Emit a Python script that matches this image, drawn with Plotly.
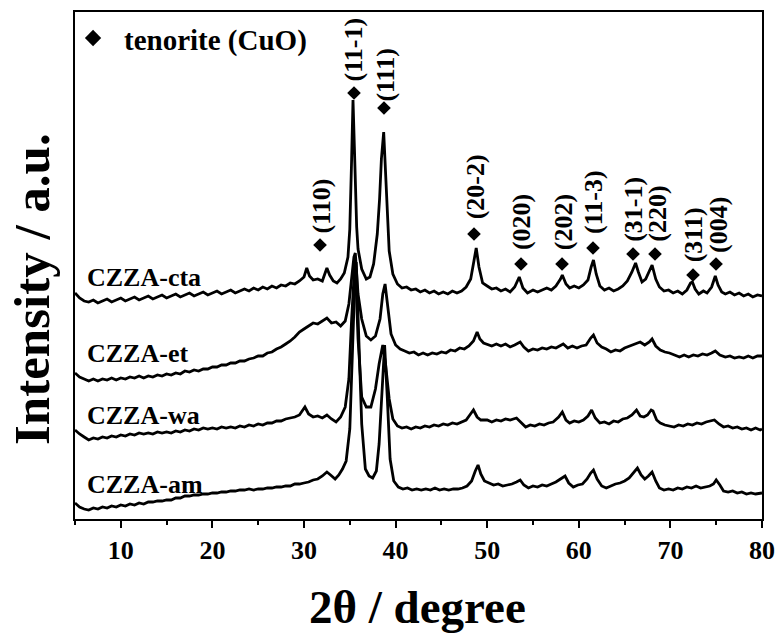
import plotly.graph_objects as go

# ---- data (2theta in degree, intensity in a.u.) ----
cta = [
(5.0,226),(5.5,221),(6.0,218),(6.5,217),(7.0,219),(7.5,216),(8.0,218),(8.5,220),(9.0,217),(9.5,219),
(10.0,221),(10.5,218),(11.0,220),(11.5,222),(12.0,219),(12.5,221),(13.0,223),(13.5,220),(14.0,222),(14.5,224),
(15.0,221),(15.5,223),(16.0,225),(16.5,222),(17.0,224),(17.5,226),(18.0,223),(18.5,225),(19.0,227),(19.5,224),
(20.0,226),(20.5,228),(21.0,225),(21.5,227),(22.0,229),(22.5,226),(23.0,228),(23.5,230),(24.0,228),(24.5,231),
(25.0,229),(25.5,232),(26.0,230),(26.5,233),(27.0,231),(27.5,234),(28.0,233),(28.5,236),(29.0,235),(29.5,238),
(30.0,242),(30.3,251),(30.6,243),(31.0,239),(31.5,240),(32.0,238),(32.5,251),(32.8,244),(33.2,238),(33.6,236),
(34.0,240),(34.4,246),(34.8,262),(35.0,290),(35.2,360),(35.35,419),(35.5,372),(35.6,330),(35.75,292),(35.9,270),
(36.3,250),(36.8,240),(37.2,242),(37.6,255),(38.0,285),(38.25,320),(38.45,360),(38.7,387),(38.9,345),(39.1,300),(39.3,268),
(39.7,245),(40.2,235),(40.7,231),(41.2,232),(41.7,229),(42.2,230),(42.7,227),(43.2,229),(43.7,226),(44.2,228),
(44.7,225),(45.2,227),(45.7,225),(46.2,228),(46.7,226),(47.2,228),(47.7,232),(48.2,240),(48.55,258),(48.8,271),
(49.1,252),(49.5,236),(50.0,233),(50.5,230),(51.0,231),(51.5,228),(52.0,230),(52.5,227),(53.0,232),(53.5,242),
(53.9,231),(54.4,226),(55.0,229),(55.5,227),(56.0,229),(56.5,231),(57.0,229),(57.5,233),(58.0,240),(58.2,244),
(58.6,235),(59.0,231),(59.5,233),(60.0,231),(60.5,234),(61.0,239),(61.35,252),(61.6,259),(61.9,245),(62.3,233),
(62.8,229),(63.3,231),(63.8,228),(64.3,230),(64.8,233),(65.3,238),(65.8,247),(66.2,256),(66.5,247),(66.9,237),
(67.3,240),(67.7,248),(68.0,254),(68.4,240),(68.8,232),(69.3,228),(69.8,229),(70.3,226),(70.8,228),(71.3,225),
(71.8,229),(72.2,236),(72.4,237),(72.7,230),(73.1,225),(73.6,228),(74.0,226),(74.5,232),(74.9,243),(75.2,234),
(75.6,227),(76.0,225),(76.5,227),(77.0,224),(77.5,226),(78.0,223),(78.5,225),(79.0,222),(79.5,224),(80.0,223)]

et = [
(5.0,146),(5.5,142),(6.0,140),(6.5,138),(7.0,140),(7.5,138),(8.0,140),(8.5,139),(9.0,141),(9.5,139),
(10.0,141),(10.5,140),(11.0,142),(11.5,141),(12.0,143),(12.5,141),(13.0,143),(13.5,142),(14.0,144),(14.5,143),
(15.0,145),(15.5,144),(16.0,146),(16.5,145),(17.0,148),(17.5,147),(18.0,149),(18.5,148),(19.0,150),(19.5,150),
(20.0,152),(20.5,152),(21.0,154),(21.5,154),(22.0,156),(22.5,156),(23.0,158),(23.5,158),(24.0,160),(24.5,161),
(25.0,163),(25.5,163),(26.0,166),(26.5,167),(27.0,170),(27.5,172),(28.0,175),(28.5,178),(29.0,182),(29.5,187),
(30.0,190),(30.5,193),(31.0,196),(31.5,195),(32.0,198),(32.5,201),(33.0,196),(33.5,197),(34.0,193),(34.5,198),
(34.9,215),(35.2,240),(35.45,262),(35.6,266),(35.75,245),(35.9,225),(36.3,200),(36.8,183),(37.3,179),(37.8,183),
(38.3,200),(38.6,225),(38.85,235),(39.1,215),(39.5,185),(40.0,174),(40.5,170),(41.0,168),(41.5,166),(42.0,167),
(42.5,164),(43.0,166),(43.5,164),(44.0,166),(44.5,165),(45.0,167),(45.5,166),(46.0,169),(46.5,168),(47.0,171),
(47.5,170),(48.0,173),(48.5,178),(48.9,187),(49.2,180),(49.6,176),(50.0,175),(50.5,173),(51.0,175),(51.5,173),
(52.0,175),(52.5,172),(53.0,174),(53.6,177),(54.0,172),(54.5,168),(55.0,170),(55.5,169),(56.0,171),(56.5,170),
(57.0,172),(57.5,171),(58.3,175),(58.8,171),(59.3,173),(59.8,171),(60.3,173),(60.8,174),(61.3,181),(61.6,184),
(62.0,176),(62.5,172),(63.0,170),(63.5,167),(64.0,169),(64.5,168),(65.0,171),(65.5,173),(66.0,175),(66.7,177),
(67.2,174),(67.7,177),(68.0,180),(68.4,173),(68.9,169),(69.4,167),(69.9,166),(70.5,164),(71.0,162),(71.5,164),
(72.0,162),(72.5,164),(73.0,163),(73.5,165),(74.0,164),(74.5,166),(74.9,168),(75.4,164),(76.0,162),(76.5,163),
(77.0,161),(77.5,162),(78.0,161),(78.5,163),(79.0,161),(79.5,163),(80.0,163)]

wa = [
(5.0,89),(5.5,85),(6.0,82),(6.5,79),(7.0,81),(7.5,80),(8.0,82),(8.5,81),(9.0,83),(9.5,82),
(10.0,84),(10.5,83),(11.0,85),(11.5,84),(12.0,86),(12.5,85),(13.0,86),(13.5,85),(14.0,87),(14.5,86),
(15.0,87),(15.5,86),(16.0,88),(16.5,87),(17.0,89),(17.5,88),(18.0,90),(18.5,89),(19.0,91),(19.5,90),
(20.0,91),(20.5,90),(21.0,92),(21.5,91),(22.0,92),(22.5,91),(23.0,93),(23.5,92),(24.0,94),(24.5,93),
(25.0,95),(25.5,94),(26.0,96),(26.5,96),(27.0,98),(27.5,98),(28.0,100),(28.5,101),(29.0,102),(29.5,104),
(29.8,108),(30.1,112),(30.5,105),(31.0,102),(31.5,103),(32.0,101),(32.5,104),(33.0,100),(33.5,97),(34.0,102),
(34.5,112),(34.9,140),(35.2,200),(35.4,240),(35.55,257),(35.7,230),(35.9,180),(36.3,122),(36.8,112),(37.3,112),
(37.8,130),(38.2,155),(38.6,174),(38.9,155),(39.3,120),(39.7,100),(40.2,93),(40.7,91),(41.2,92),(41.7,90),
(42.2,92),(42.7,91),(43.2,93),(43.7,92),(44.2,94),(44.7,93),(45.2,95),(45.7,94),(46.2,96),(46.7,95),
(47.2,97),(47.7,99),(48.1,104),(48.5,109),(48.9,102),(49.3,99),(50.0,99),(50.5,97),(51.0,99),(51.5,98),
(52.0,100),(52.5,99),(53.2,101),(53.7,96),(54.2,92),(54.7,94),(55.2,93),(55.7,95),(56.2,94),(56.7,96),
(57.2,97),(57.8,102),(58.2,107),(58.6,99),(59.0,96),(59.5,98),(60.0,97),(60.5,99),(61.0,103),(61.4,109),
(61.8,101),(62.3,96),(62.8,97),(63.3,95),(63.8,98),(64.3,97),(64.8,100),(65.3,101),(65.8,104),(66.3,109),
(66.7,103),(67.1,102),(67.5,104),(67.9,109),(68.1,108),(68.5,99),(68.9,96),(69.4,94),(69.9,93),(70.4,92),
(70.9,94),(71.4,93),(71.9,95),(72.4,94),(72.9,96),(73.4,95),(73.9,97),(74.4,98),(74.8,99),(75.3,95),
(75.8,92),(76.3,93),(76.8,91),(77.3,92),(77.8,90),(78.3,91),(78.8,89),(79.3,91),(79.8,89),(80.0,90)]

am = [
(5.0,16),(5.5,12),(6.0,10),(6.5,9),(7.0,11),(7.5,10),(8.0,12),(8.5,11),(9.0,13),(9.5,12),
(10.0,14),(10.5,13),(11.0,15),(11.5,14),(12.0,16),(12.5,15),(13.0,17),(13.5,17),(14.0,18),(14.5,18),
(15.0,19),(15.5,19),(16.0,21),(16.5,21),(17.0,23),(17.5,23),(18.0,24),(18.5,24),(19.0,25),(19.5,25),
(20.0,26),(20.5,26),(21.0,27),(21.5,27),(22.0,28),(22.5,28),(23.0,29),(23.5,29),(24.0,30),(24.5,29),
(25.0,30),(25.5,30),(26.0,31),(26.5,31),(27.0,32),(27.5,32),(28.0,33),(28.5,33),(29.0,35),(29.5,35),
(30.0,36),(30.5,37),(31.0,39),(31.5,40),(32.0,43),(32.5,47),(32.9,44),(33.4,40),(33.8,44),(34.2,50),
(34.6,58),(35.0,90),(35.3,170),(35.5,225),(35.7,257),(35.85,220),(36.0,180),(36.3,95),(36.7,50),(37.1,43),
(37.5,41),(37.9,48),(38.2,75),(38.5,130),(38.8,174),(39.1,120),(39.4,60),(39.8,38),(40.3,32),(40.8,30),
(41.3,31),(41.8,29),(42.3,30),(42.8,29),(43.3,30),(43.8,29),(44.3,31),(44.8,29),(45.3,30),(45.8,29),
(46.3,30),(46.8,30),(47.3,31),(47.8,33),(48.3,38),(48.7,48),(49.0,54),(49.3,45),(49.7,38),(50.2,36),
(50.7,34),(51.2,35),(51.7,33),(52.2,34),(52.7,35),(53.2,37),(53.6,39),(54.0,34),(54.5,31),(55.0,33),
(55.5,32),(56.0,34),(56.5,33),(57.0,35),(57.5,37),(58.0,40),(58.5,43),(58.9,36),(59.4,32),(59.9,34),
(60.4,35),(60.9,40),(61.3,46),(61.6,49),(62.0,40),(62.5,33),(63.0,31),(63.5,33),(64.0,35),(64.5,36),
(65.0,38),(65.5,41),(66.0,47),(66.4,51),(66.8,44),(67.2,40),(67.6,43),(68.0,47),(68.4,38),(68.8,31),
(69.3,29),(69.8,30),(70.3,29),(70.8,31),(71.3,30),(71.8,32),(72.3,31),(72.8,33),(73.3,31),(73.8,32),
(74.3,33),(74.7,35),(75.0,39),(75.4,34),(75.8,28),(76.3,27),(76.8,28),(77.3,26),(77.8,27),(78.3,25),
(78.8,26),(79.3,25),(79.8,26),(80.0,26)]

sample_names = ["CZZA-cta", "CZZA-et", "CZZA-wa", "CZZA-am"]
sample_label_y = [242, 166, 104, 35]
sample_label_x = 6.1

peak_hkl = ["(110)", "(11-1)", "(111)", "(20-2)", "(020)", "(202)", "(11-3)", "(31-1)", "(220)", "(311)", "(004)"]
peak_marker_x = [31.75, 35.46, 38.73, 48.56, 53.69, 58.17, 61.55, 65.92, 68.32, 72.47, 74.98]
peak_marker_y = [274, 426, 411, 285, 255, 255, 271, 265, 265, 244, 255]
peak_label_x = [31.9, 35.4, 38.8, 48.7, 53.7, 58.3, 61.55, 65.9, 68.5, 72.5, 75.2]
peak_label_y = [313, 470, 444, 332, 297, 297, 317, 310, 305, 284, 294]

x_ticks = [10, 20, 30, 40, 50, 60, 70, 80]

FONT = "Liberation Serif, Times New Roman, serif"

fig = go.Figure()
for series in (cta, et, wa, am):
    fig.add_trace(go.Scatter(
        x=[p[0] for p in series], y=[p[1] for p in series],
        mode="lines", line=dict(color="black", width=2.8), showlegend=False,
        hoverinfo="skip"))

fig.add_trace(go.Scatter(
    x=peak_marker_x, y=peak_marker_y, mode="markers",
    marker=dict(symbol="diamond", size=10.5, color="black"),
    showlegend=False, hoverinfo="skip"))

# legend marker
fig.add_trace(go.Scatter(
    x=[6.97], y=[481], mode="markers",
    marker=dict(symbol="diamond", size=12.5, color="black"),
    showlegend=False, hoverinfo="skip"))

annotations = []
annotations.append(dict(x=10.1, y=479, xref="x", yref="y", text="tenorite (CuO)",
                        showarrow=False, xanchor="left", yanchor="middle",
                        font=dict(family=FONT, size=29, color="black", weight="bold")))
for name, yy in zip(sample_names, sample_label_y):
    annotations.append(dict(x=sample_label_x, y=yy, xref="x", yref="y", text=name,
                            showarrow=False, xanchor="left", yanchor="middle",
                            font=dict(family=FONT, size=26, color="black", weight="bold")))
for lab, lx, ly in zip(peak_hkl, peak_label_x, peak_label_y):
    annotations.append(dict(x=lx, y=ly, xref="x", yref="y", text=lab, textangle=-90,
                            showarrow=False, xanchor="center", yanchor="middle",
                            font=dict(family=FONT, size=26, color="black", weight="bold")))
# axis titles
annotations.append(dict(x=(32 - 75) / 687, y=(519 - 289) / 507, xref="paper", yref="paper",
                        text="Intensity / a.u.", textangle=-90, showarrow=False,
                        xanchor="center", yanchor="middle",
                        font=dict(family=FONT, size=51, color="black", weight="bold")))
annotations.append(dict(x=(417 - 75) / 687, y=(519 - 607) / 507, xref="paper", yref="paper",
                        text="2θ / degree", showarrow=False,
                        xanchor="center", yanchor="middle",
                        font=dict(family=FONT, size=47, color="black", weight="bold")))

fig.update_layout(
    width=777, height=633,
    margin=dict(l=75, r=15, t=12, b=114, autoexpand=False),
    paper_bgcolor="white", plot_bgcolor="white",
    annotations=annotations,
    xaxis=dict(range=[5, 80], tickvals=x_ticks, ticktext=[str(t) for t in x_ticks],
               automargin=False,
               ticks="outside", ticklen=7, tickwidth=1.5, tickcolor="black",
               minor=dict(dtick=5, tick0=5, ticks="outside", ticklen=4, tickwidth=1.5, tickcolor="black"),
               showline=True, linecolor="black", linewidth=2, mirror=True,
               showgrid=False, zeroline=False,
               tickfont=dict(family=FONT, size=26, color="black", weight="bold")),
    yaxis=dict(range=[0, 507], showticklabels=False, ticks="", automargin=False,
               showline=True, linecolor="black", linewidth=2, mirror=True,
               showgrid=False, zeroline=False),
)

fig.write_html("out.html")
